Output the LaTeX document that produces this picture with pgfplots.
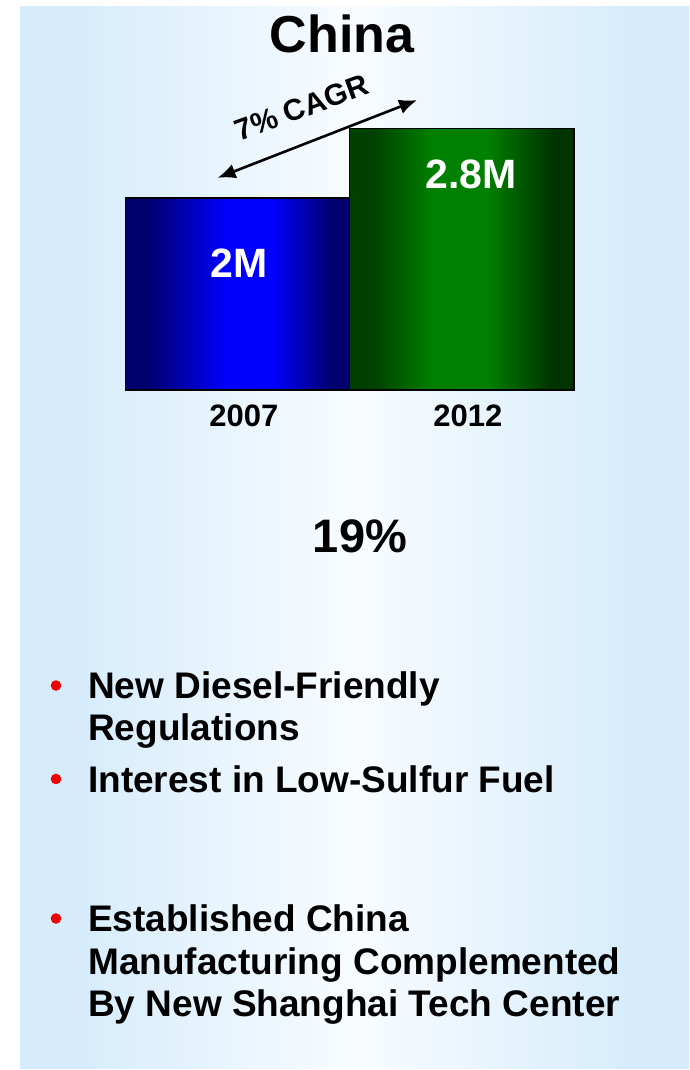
\documentclass[border=0pt]{standalone}
\usepackage{pgfplots}
\pgfplotsset{compat=1.18}
\usetikzlibrary{arrows.meta}
\usepackage{fontspec}
\setmainfont{Liberation Sans}
\definecolor{panelEdge}{RGB}{214,236,251}
\definecolor{panelMid}{RGB}{248,252,255}
\definecolor{blueEdge}{RGB}{0,0,110}
\definecolor{blueMid}{RGB}{0,0,255}
\definecolor{greenEdgeL}{RGB}{0,64,0}
\definecolor{greenMid}{RGB}{0,128,0}
\definecolor{greenEdgeR}{RGB}{0,52,0}
\definecolor{bulletred}{RGB}{240,0,0}
\pgfdeclarehorizontalshading{panelshade}{100bp}{color(0bp)=(panelEdge); color(29bp)=(panelEdge); color(50bp)=(panelMid); color(71bp)=(panelEdge); color(100bp)=(panelEdge)}
\pgfdeclarehorizontalshading{blueshade}{100bp}{color(0bp)=(blueEdge); color(30bp)=(blueEdge); color(47.5bp)=(blueMid); color(57.5bp)=(blueMid); color(71bp)=(blueEdge); color(100bp)=(blueEdge)}
\pgfdeclarehorizontalshading{greenshade}{100bp}{color(0bp)=(greenEdgeL); color(30bp)=(greenEdgeL); color(43.5bp)=(greenMid); color(55.5bp)=(greenMid); color(70bp)=(greenEdgeR); color(100bp)=(greenEdgeR)}
\newcommand\fs[1]{\fontsize{#1}{#1}\selectfont\bfseries}
\begin{document}
\begin{tikzpicture}[x=1pt,y=1pt]
\path (0,0) rectangle (689,1070);
\shade[shading=panelshade] (20,1) rectangle (689,1063);
\begin{axis}[
  at={(125.7pt,680pt)}, anchor=south west,
  scale only axis, width=448.3pt, height=300pt,
  xmin=-0.5, xmax=1.5, ymin=0, ymax=3.125,
  axis line style={draw=none},
  major tick length=0pt,
  xtick={0,1}, xticklabels={2007,2012},
  ytick=\empty,
  xticklabel style={anchor=base, yshift=-37pt, xshift=6pt, font=\fs{31}},
  clip=false,
]
\addplot[ybar, bar width=224.2pt, bar shift=0pt, draw=black, line width=1.2pt,
  shade, shading=blueshade]
  coordinates {(0,2.0)};
\addplot[ybar, bar width=224.2pt, bar shift=0pt, draw=black, line width=1.2pt,
  shade, shading=greenshade]
  coordinates {(1,2.72)};
\node[text=white, font=\fs{41}] at (axis cs:0.005,1.32) {2M};
\node[text=white, font=\fs{41}] at (axis cs:1.04,2.25) {2.8M};
\draw[line width=2.6pt, {Latex[length=18pt,width=15pt]}-{Latex[length=18pt,width=15pt]}]
  (axis cs:-0.09,2.21) -- (axis cs:0.80,3.02);
\node[rotate=20, font=\fs{30}, inner sep=1pt] at (axis cs:0.285,2.94) {7\% CAGR};
\end{axis}
\node[anchor=base, font=\fs{52}] at (342,1017) {China};
\node[anchor=base, font=\fs{47}] at (360,517) {19\%};
\fill[bulletred] (56,1070-685.5) circle (5.3);
\fill[bulletred] (56,1070-779) circle (5.3);
\fill[bulletred] (56,1070-918.5) circle (5.3);
\node[anchor=base west, inner sep=0pt, font=\fs{37}] at (88,1070-699) {New Diesel-Friendly};
\node[anchor=base west, inner sep=0pt, font=\fs{37}] at (88,1070-741) {Regulations};
\node[anchor=base west, inner sep=0pt, font=\fs{37}] at (88,1070-793) {Interest in Low-Sulfur Fuel};
\node[anchor=base west, inner sep=0pt, font=\fs{37}] at (88,1070-932) {Established China};
\node[anchor=base west, inner sep=0pt, font=\fs{37}] at (88,1070-975) {Manufacturing Complemented};
\node[anchor=base west, inner sep=0pt, font=\fs{37}] at (88,1070-1017) {By New Shanghai Tech Center};
\end{tikzpicture}
\end{document}
